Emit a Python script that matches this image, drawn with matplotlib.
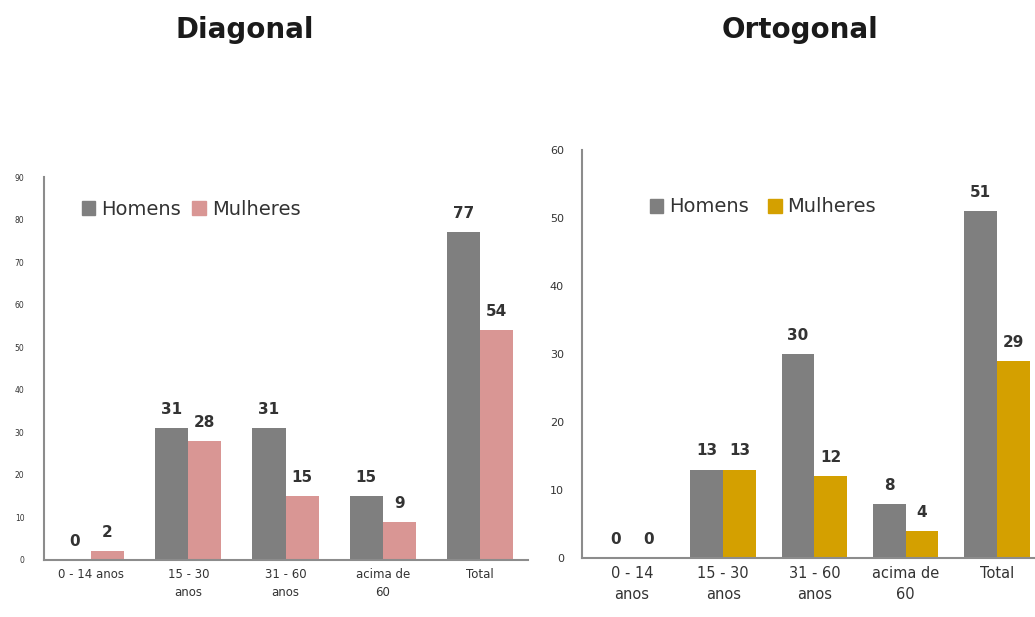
import matplotlib
matplotlib.use("Agg")
import matplotlib.pyplot as plt
from matplotlib.patches import Patch
import numpy as np

# Data
cats_diag = ["0 - 14 anos", "15 - 30\nanos", "31 - 60\nanos", "acima de\n60", "Total"]
homens_diag = [0, 31, 31, 15, 77]
mulheres_diag = [2, 28, 15, 9, 54]

cats_orto = ["0 - 14\nanos", "15 - 30\nanos", "31 - 60\nanos", "acima de\n60", "Total"]
homens_orto = [0, 13, 30, 8, 51]
mulheres_orto = [0, 13, 12, 4, 29]

series_names = ["Homens", "Mulheres"]
c_hom = "#7f7f7f"
c_mul_diag = "#d99694"
c_mul_orto = "#d4a000"
txt = "#333333"
spine_c = "#8c8c8c"

fig = plt.figure(figsize=(10.35, 6.17), dpi=100)

def draw(ax, cats, hom, mul, cmul, width, ylim, yticks, tick_fs, xtick_fs, val_fs, xlim, ypad):
    x = np.arange(len(cats))
    ax.bar(x - width / 2, hom, width, color=c_hom)
    ax.bar(x + width / 2, mul, width, color=cmul)
    for xi, v in zip(x - width / 2, hom):
        ax.annotate(str(v), (xi, v), xytext=(0, 8), textcoords="offset points",
                    ha="center", va="bottom", fontsize=val_fs, color=txt, fontweight="bold")
    for xi, v in zip(x + width / 2, mul):
        ax.annotate(str(v), (xi, v), xytext=(0, 8), textcoords="offset points",
                    ha="center", va="bottom", fontsize=val_fs, color=txt, fontweight="bold")
    ax.set_xlim(*xlim)
    ax.set_ylim(*ylim)
    ax.set_yticks(yticks)
    ax.set_xticks(x)
    ax.set_xticklabels(cats, fontsize=xtick_fs, color=txt, linespacing=1.5)
    ax.tick_params(axis="y", length=0, labelsize=tick_fs, labelcolor=txt, pad=ypad)
    ax.tick_params(axis="x", length=0, pad=6)
    for s in ["top", "right"]:
        ax.spines[s].set_visible(False)
    for s in ["left", "bottom"]:
        ax.spines[s].set_color(spine_c)
        ax.spines[s].set_linewidth(1.5)

ax1 = fig.add_axes([0.0425, 0.0924, 0.4675, 0.6207])
draw(ax1, cats_diag, homens_diag, mulheres_diag, c_mul_diag, 0.34,
     (0, 90), range(0, 91, 10), 5.5, 8.5, 11, (-0.483, 4.49), 14)

ax2 = fig.add_axes([0.5623, 0.0956, 0.4377, 0.6613])
draw(ax2, cats_orto, homens_orto, mulheres_orto, c_mul_orto, 0.36,
     (0, 60), range(0, 61, 10), 8, 10.5, 11, (-0.55, 4.42), 13)

fig.text(245 / 1035, 1 - 30 / 617, "Diagonal", ha="center", va="center",
         fontsize=20, fontweight="bold", color="#1a1a1a")
fig.text(800 / 1035, 1 - 30 / 617, "Ortogonal", ha="center", va="center",
         fontsize=20, fontweight="bold", color="#1a1a1a")

h1 = [Patch(color=c_hom), Patch(color=c_mul_diag)]
ax1.legend(h1, series_names, loc="center left", bbox_to_anchor=(64 / 1035, 1 - 209 / 617),
           bbox_transform=fig.transFigure, ncol=2, frameon=False, fontsize=14,
           handlelength=0.7, handleheight=0.7, handletextpad=0.3, columnspacing=0.6,
           labelcolor="#333333")
h2 = [Patch(color=c_hom), Patch(color=c_mul_orto)]
ax2.legend(h2, series_names, loc="center left", bbox_to_anchor=(632 / 1035, 1 - 207 / 617),
           bbox_transform=fig.transFigure, ncol=2, frameon=False, fontsize=14,
           handlelength=0.7, handleheight=0.7, handletextpad=0.3, columnspacing=1.0,
           labelcolor="#333333")

fig.savefig("out.png", dpi=100, facecolor="white")
